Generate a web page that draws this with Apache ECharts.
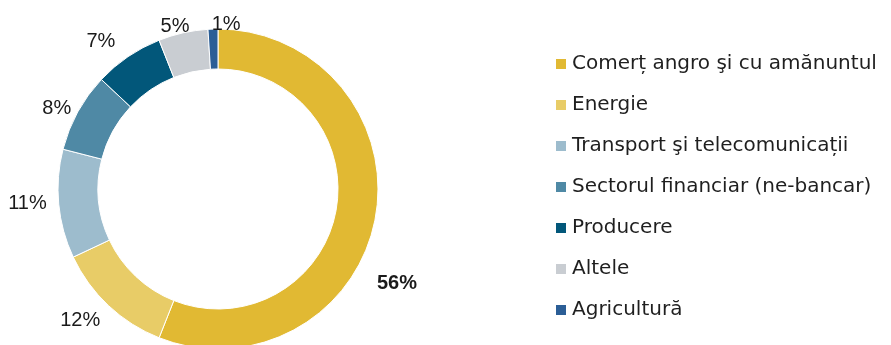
<!DOCTYPE html>
<html>
<head>
<meta charset="utf-8">
<script src="https://cdn.jsdelivr.net/npm/echarts@6/dist/echarts.min.js"></script>
<style>
  html, body { margin: 0; padding: 0; background: #fff; }
  #chart { width: 891px; height: 345px; }
</style>
</head>
<body>
<div id="chart"></div>
<script>
// Sector shares (%)
const sectors = [
  'Comerț angro şi cu amănuntul',
  'Energie',
  'Transport şi telecomunicații',
  'Sectorul financiar (ne-bancar)',
  'Producere',
  'Altele',
  'Agricultură'
];
const shares = [56, 12, 11, 8, 7, 5, 1];
const colors = ['#E1B933', '#E8CC67', '#9DBCCD', '#4F89A5', '#02577A', '#C9CDD2', '#2B5E96'];

// Small nudges for the outside labels (dx, dy in px)
const labelNudge = [[-15, 62], [5, 6], [5, -2], [9, 2], [-1, -5], [14, 5], [33, 7]];

const chart = echarts.init(document.getElementById('chart'), null, { renderer: 'canvas' });

chart.setOption({
  animation: false,
  color: colors,
  legend: {
    orient: 'vertical',
    left: 549,
    top: 49,
    icon: 'rect',
    itemWidth: 12,
    itemHeight: 12,
    itemGap: 21,
    textStyle: {
      fontFamily: 'DejaVu Sans',
      fontSize: 20,
      lineHeight: 20,
      color: '#1f1f1f'
    },
    data: sectors
  },
  series: [{
    type: 'pie',
    center: [218, 189],
    radius: [120, 160],
    startAngle: 90,
    clockwise: true,
    avoidLabelOverlap: false,
    itemStyle: { borderColor: '#fff', borderWidth: 1 },
    label: {
      show: true,
      position: 'outside',
      formatter: '{c}%',
      fontFamily: 'Liberation Sans',
      fontSize: 20,
      color: '#1a1a1a'
    },
    labelLine: { show: false, length: 12, length2: 0 },
    labelLayout: function (p) {
      const n = labelNudge[p.dataIndex];
      return { dx: n[0], dy: n[1] };
    },
    emphasis: { disabled: true },
    data: sectors.map((name, i) => ({
      name: name,
      value: shares[i],
      label: i === 0 ? { fontWeight: 'bold' } : undefined
    }))
  }]
});
</script>
</body>
</html>
